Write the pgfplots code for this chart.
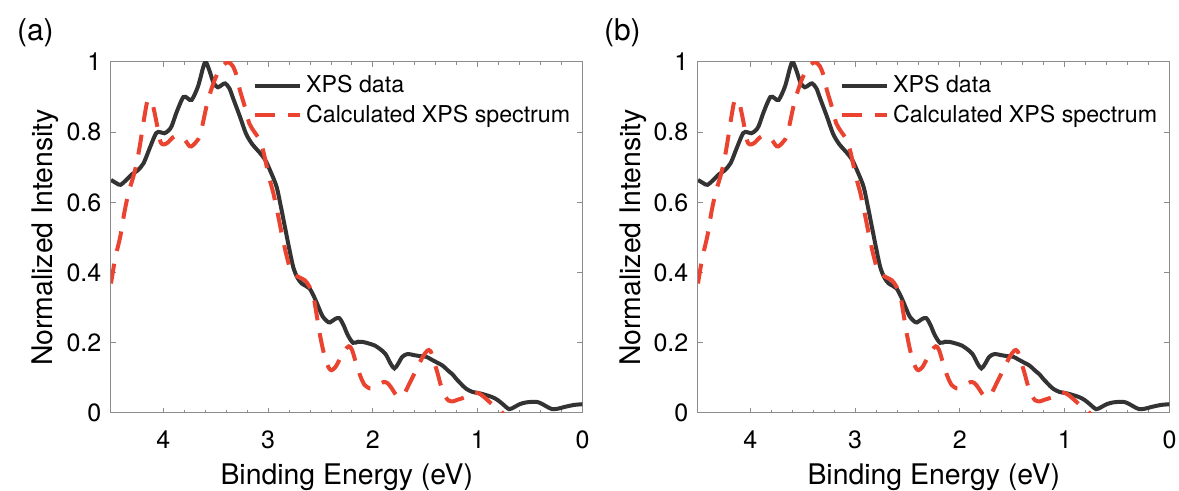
\documentclass[border=0pt]{standalone}
\usepackage{fontspec}
\setmainfont{TeX Gyre Heros}
\usepackage{pgfplots}
\usepackage{pgfplotstable}
\pgfplotsset{compat=1.18}
\definecolor{xpsblack}{RGB}{51,51,51}
\definecolor{xpsred}{RGB}{234,67,47}
\definecolor{axgray}{RGB}{140,140,140}

\pgfplotstableread{
x y
4.50 0.664
4.45 0.655
4.41 0.650
4.35 0.665
4.30 0.680
4.25 0.690
4.19 0.711
4.13 0.755
4.07 0.797
4.03 0.800
3.99 0.797
3.95 0.805
3.92 0.818
3.87 0.860
3.81 0.900
3.77 0.897
3.73 0.892
3.67 0.930
3.62 0.985
3.595 1.000
3.56 0.975
3.52 0.940
3.48 0.928
3.44 0.935
3.41 0.939
3.37 0.925
3.335 0.897
3.27 0.845
3.21 0.795
3.15 0.765
3.09 0.745
3.03 0.722
2.98 0.690
2.92 0.645
2.88 0.590
2.84 0.530
2.80 0.470
2.76 0.415
2.72 0.385
2.68 0.369
2.64 0.362
2.605 0.355
2.56 0.330
2.51 0.295
2.48 0.275
2.44 0.262
2.41 0.258
2.36 0.268
2.32 0.270
2.28 0.250
2.24 0.222
2.19 0.200
2.14 0.203
2.09 0.202
2.04 0.198
1.98 0.192
1.94 0.184
1.88 0.168
1.83 0.140
1.795 0.127
1.76 0.140
1.72 0.160
1.67 0.168
1.61 0.165
1.55 0.162
1.49 0.160
1.44 0.152
1.39 0.144
1.335 0.135
1.28 0.120
1.24 0.110
1.21 0.099
1.16 0.083
1.11 0.069
1.05 0.060
0.98 0.056
0.92 0.051
0.86 0.045
0.81 0.037
0.76 0.025
0.70 0.011
0.65 0.017
0.60 0.025
0.54 0.030
0.45 0.032
0.40 0.028
0.34 0.018
0.29 0.011
0.24 0.012
0.16 0.018
0.08 0.023
0.00 0.025
}\expdata

\pgfplotstableread{
x y
4.50 0.369
4.46 0.440
4.41 0.505
4.37 0.575
4.33 0.630
4.29 0.670
4.255 0.711
4.22 0.770
4.19 0.828
4.16 0.880
4.145 0.893
4.12 0.890
4.097 0.873
4.07 0.835
4.03 0.775
4.00 0.765
3.96 0.770
3.91 0.785
3.87 0.790
3.83 0.785
3.795 0.778
3.75 0.760
3.72 0.762
3.68 0.775
3.65 0.790
3.62 0.830
3.589 0.873
3.55 0.915
3.51 0.949
3.46 0.980
3.40 0.998
3.37 0.998
3.335 0.987
3.30 0.960
3.27 0.920
3.22 0.870
3.18 0.825
3.13 0.800
3.08 0.778
3.05 0.750
3.02 0.711
2.99 0.670
2.95 0.626
2.91 0.570
2.87 0.510
2.83 0.455
2.795 0.417
2.75 0.395
2.70 0.386
2.65 0.378
2.61 0.362
2.57 0.335
2.54 0.285
2.51 0.230
2.48 0.185
2.45 0.150
2.42 0.128
2.395 0.122
2.36 0.130
2.32 0.151
2.27 0.178
2.23 0.190
2.20 0.180
2.16 0.141
2.12 0.105
2.08 0.080
2.03 0.070
2.00 0.070
1.95 0.080
1.90 0.088
1.86 0.085
1.82 0.070
1.78 0.052
1.74 0.046
1.70 0.055
1.65 0.085
1.60 0.115
1.56 0.140
1.52 0.162
1.48 0.178
1.45 0.176
1.42 0.150
1.38 0.110
1.35 0.077
1.31 0.048
1.28 0.036
1.24 0.033
1.19 0.038
1.13 0.044
1.08 0.055
1.04 0.059
0.99 0.056
0.95 0.048
0.90 0.035
0.86 0.024
0.82 0.015
0.78 0.006
0.75 -0.005
}\calcdata

\pgfplotsset{xpsaxis/.style={
  scale only axis, width=235.75pt, height=175.5pt,
  xmin=0, xmax=4.5, ymin=0, ymax=1, x dir=reverse,
  xtick={0,1,2,3,4}, ytick={0,0.2,0.4,0.6,0.8,1}, minor x tick num=4,
  tick align=inside, major tick length=2.5pt, minor tick length=1.5pt,
  axis line style={axgray, line width=0.5pt},
  every tick/.style={axgray, line width=0.5pt},
  every minor tick/.style={axgray, line width=0.5pt},
  tick label style={font=\fontsize{12.5}{15}\selectfont, text=black},
  /pgf/number format/assume math mode=true,
  xticklabel style={yshift=-5.5pt},
  yticklabel style={xshift=-1.3pt},
  label style={font=\fontsize{14.2}{17}\selectfont},
  xlabel={Binding Energy (eV)}, ylabel={Normalized Intensity},
  xlabel style={at={(axis description cs:0.5,-0.2023)}, anchor=base},
  ylabel style={at={(axis description cs:-0.123,0.5)}, anchor=base},
  legend style={draw=none, fill=none, at={(0.288,0.985)}, anchor=north west,
    font=\fontsize{11.6}{14}\selectfont, row sep=0.5pt},
  legend cell align=left,
  legend image code/.code={\draw[##1] (0pt,0pt) -- (22.5pt,0pt);},
}}

\begin{document}
\begin{tikzpicture}
\useasboundingbox (-55.5pt,-39pt) rectangle (534pt,206.5pt);
\begin{axis}[xpsaxis, at={(0pt,0pt)}]
\addplot[xpsblack, line width=2pt, smooth] table {\expdata};
\addlegendentry{XPS data}
\addplot[xpsred, line width=2pt, dash pattern=on 10pt off 6.5pt, smooth] table {\calcdata};
\addlegendentry{Calculated XPS spectrum}
\end{axis}
\begin{axis}[xpsaxis, at={(293.5pt,0pt)}]
\addplot[xpsblack, line width=2pt, smooth] table {\expdata};
\addlegendentry{XPS data}
\addplot[xpsred, line width=2pt, dash pattern=on 10pt off 6.5pt, smooth] table {\calcdata};
\addlegendentry{Calculated XPS spectrum}
\end{axis}
\node[anchor=west, font=\fontsize{15}{18}\selectfont] at (-50.5pt,190pt) {(a)};
\node[anchor=west, font=\fontsize{15}{18}\selectfont] at (243pt,190pt) {(b)};
\end{tikzpicture}
\end{document}
